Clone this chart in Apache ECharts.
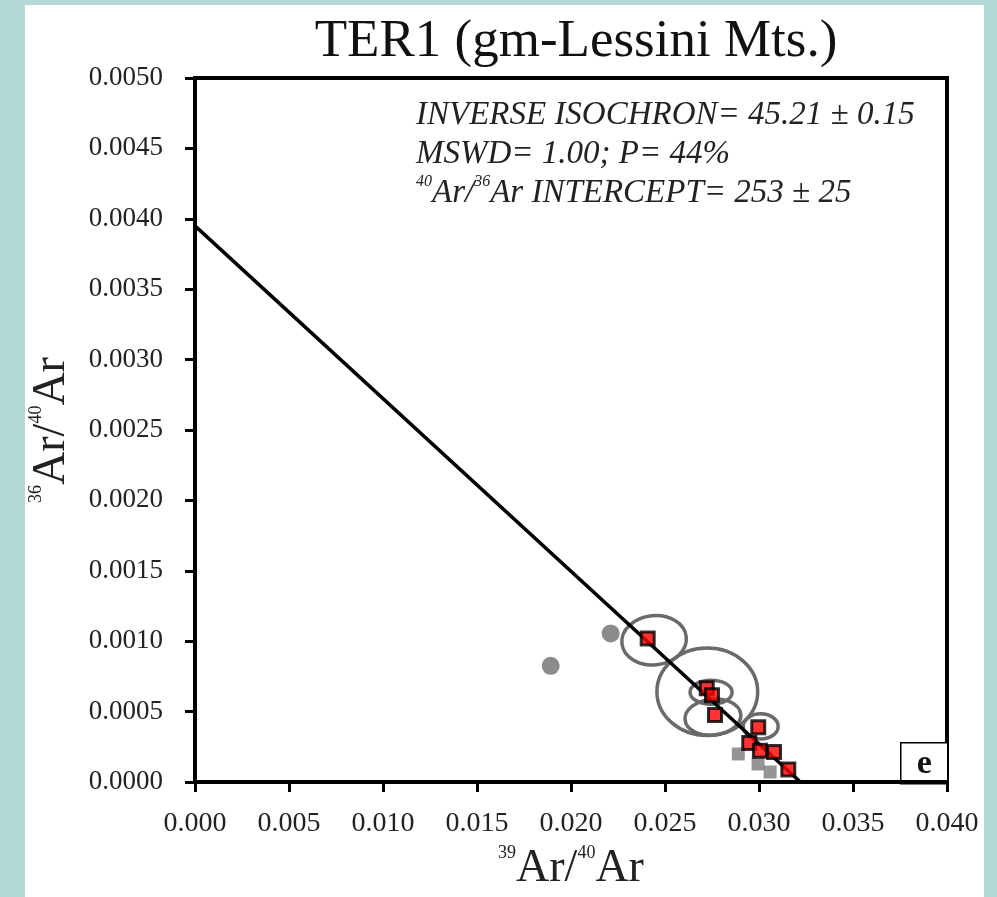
<!DOCTYPE html>
<html>
<head>
<meta charset="utf-8">
<script src="https://cdn.jsdelivr.net/npm/echarts@6/dist/echarts.min.js"></script>
<style>
html,body{margin:0;padding:0;background:#b2d9d6;}
#panel{position:absolute;left:25px;top:5px;width:959px;height:892px;background:#ffffff;}
#chart{position:absolute;left:0;top:0;width:997px;height:897px;}
</style>
</head>
<body>
<div id="panel"></div>
<div id="chart"></div>
<script>
// ---- data ----
const xTickLabels = ['0.000','0.005','0.010','0.015','0.020','0.025','0.030','0.035','0.040'];
const yTickLabels = ['0.0000','0.0005','0.0010','0.0015','0.0020','0.0025','0.0030','0.0035','0.0040','0.0045','0.0050'];

// accepted steps (red squares)
const acceptedX = [0.02408, 0.02722, 0.02750, 0.02766, 0.02996, 0.02948, 0.03005, 0.03080, 0.03156];
const acceptedY = [0.001019, 0.000665, 0.000617, 0.000475, 0.000388, 0.000277, 0.000222, 0.000213, 0.000089];

// rejected steps (grey circles / grey squares)
const rejCircleX = [0.02211, 0.01892];
const rejCircleY = [0.001055, 0.000825];
const rejSquareX = [0.02890, 0.02995, 0.03059];
const rejSquareY = [0.000199, 0.000128, 0.000071];

// error ellipses: centre, semi-axes (data units), tilt (deg)
const ellCX = [0.02442, 0.02725, 0.02745, 0.02755, 0.03009];
const ellCY = [0.001007, 0.000641, 0.000638, 0.000461, 0.000395];
const ellRX = [0.00172, 0.00268, 0.00112, 0.00149, 0.00093];
const ellRY = [0.000175, 0.000310, 0.000085, 0.000128, 0.000089];
const ellTilt = [6, 0, 0, 6, 0];

// isochron line
const isoX = [0, 0.0322];
const isoY = [0.00395, 0];

const annotationLines = [
  'INVERSE ISOCHRON= 45.21 \u00b1 0.15',
  'MSWD= 1.00; P= 44%'
];

// ---- build chart ----
const FONT = "'Liberation Serif','Times New Roman',serif";
const zip = (a, b) => a.map((v, i) => [v, b[i]]);
const ellData = ellCX.map((v, i) => [v, ellCY[i], ellRX[i], ellRY[i], ellTilt[i]]);

const chart = echarts.init(document.getElementById('chart'), null, {renderer: 'canvas'});
chart.setOption({
  backgroundColor: 'transparent',
  animation: false,
  textStyle: {fontFamily: FONT},
  title: [
    {
      text: 'TER1 (gm-Lessini Mts.)',
      left: 571, top: 11, textAlign: 'center',
      textStyle: {fontFamily: FONT, fontSize: 53, fontWeight: 'normal', color: '#111'}
    },
    {
      text: annotationLines[0] + '\n' + annotationLines[1] + '\n{s|40}Ar/{s|36}Ar INTERCEPT= 253 \u00b1 25',
      left: 411, top: 91,
      textStyle: {
        fontFamily: FONT, fontSize: 33, fontStyle: 'italic', fontWeight: 'normal', color: '#222', lineHeight: 39,
        rich: {s: {fontFamily: FONT, fontSize: 16, fontStyle: 'italic', color: '#222', verticalAlign: 'top', lineHeight: 39}}
      }
    }
  ],
  grid: {left: 195, top: 78, width: 752, height: 705, show: true, borderColor: '#000', borderWidth: 4, backgroundColor: 'transparent'},
  xAxis: {
    type: 'value', min: 0, max: 0.04, interval: 0.005,
    splitLine: {show: false},
    axisLine: {show: true, onZero: false, lineStyle: {color: '#000', width: 4}},
    axisTick: {show: true, inside: false, length: 10, lineStyle: {color: '#000', width: 3}},
    axisLabel: {
      margin: 28, fontFamily: FONT, fontSize: 28, color: '#222',
      formatter: v => xTickLabels[Math.round(v / 0.005)]
    },
    name: '{s|39}{b|Ar/}{s|40}{b|Ar}',
    nameLocation: 'middle', nameGap: 62,
    nameTextStyle: {
      rich: {
        b: {fontFamily: FONT, fontSize: 46, color: '#222', verticalAlign: 'bottom', lineHeight: 48},
        s: {fontFamily: FONT, fontSize: 18, color: '#222', verticalAlign: 'top', lineHeight: 48}
      }
    }
  },
  yAxis: {
    type: 'value', min: 0, max: 0.005, interval: 0.0005,
    splitLine: {show: false},
    axisLine: {show: true, onZero: false, lineStyle: {color: '#000', width: 4}},
    axisTick: {show: true, inside: false, length: 10, lineStyle: {color: '#000', width: 3}},
    axisLabel: {
      margin: 32, fontFamily: FONT, fontSize: 27, color: '#222',
      formatter: v => yTickLabels[Math.round(v / 0.0005)]
    },
    name: '{s|36}{b|Ar/}{s|40}{b|Ar}',
    nameLocation: 'middle', nameGap: 120, nameRotate: 90,
    nameTextStyle: {
      rich: {
        b: {fontFamily: FONT, fontSize: 46, color: '#222', verticalAlign: 'bottom', lineHeight: 48},
        s: {fontFamily: FONT, fontSize: 18, color: '#222', verticalAlign: 'top', lineHeight: 48}
      }
    }
  },
  graphic: [
    {
      type: 'group', left: 900, top: 742, z: 100,
      children: [
        {type: 'rect', shape: {x: 0, y: 0, width: 47, height: 41}, style: {fill: '#fff', stroke: '#000', lineWidth: 1.5}},
        {type: 'text', x: 23.5, y: 21, style: {text: 'e', font: "bold 34px 'Liberation Serif', serif", fill: '#111', align: 'center', verticalAlign: 'middle'}}
      ]
    }
  ],
  series: [
    {
      type: 'scatter', name: 'rejected circles', z: 2,
      symbol: 'circle', symbolSize: 18,
      itemStyle: {color: '#6e6e6e'},
      data: zip(rejCircleX, rejCircleY)
    },
    {
      type: 'scatter', name: 'rejected squares', z: 2,
      symbol: 'rect', symbolSize: 13,
      itemStyle: {color: '#7a7a7a'},
      data: zip(rejSquareX, rejSquareY)
    },
    {
      type: 'custom', name: 'error ellipses', z: 3,
      renderItem: function (params, api) {
        const c = api.coord([api.value(0), api.value(1)]);
        const s = api.size([api.value(2), api.value(3)]);
        return {
          type: 'ellipse',
          x: c[0], y: c[1],
          rotation: api.value(4) * Math.PI / 180,
          shape: {cx: 0, cy: 0, rx: s[0], ry: s[1]},
          style: {fill: 'none', stroke: '#6a6a6a', lineWidth: 3.5}
        };
      },
      data: ellData
    },
    {
      type: 'line', name: 'isochron', z: 4,
      symbol: 'none',
      lineStyle: {color: '#000', width: 3.5},
      data: zip(isoX, isoY)
    },
    {
      type: 'scatter', name: 'accepted', z: 5,
      symbol: 'rect', symbolSize: 13,
      itemStyle: {color: '#ff0000', borderColor: '#000', borderWidth: 3},
      data: zip(acceptedX, acceptedY)
    }
  ]
});
</script>
</body>
</html>
